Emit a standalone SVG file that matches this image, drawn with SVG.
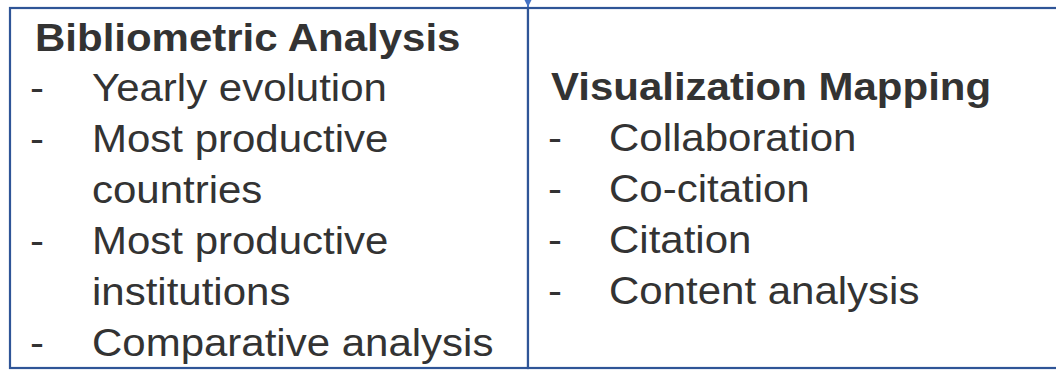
<svg xmlns="http://www.w3.org/2000/svg" width="1056" height="370" viewBox="0 0 1056 370">
<style>
.box{fill:#ffffff;stroke:#2F5597;stroke-width:2.2}
.h{font-family:"Liberation Sans",Arial,sans-serif;font-weight:bold;font-size:42px;fill:#333333}
.t{font-family:"Liberation Sans",Arial,sans-serif;font-size:42px;fill:#333333}
.conn{stroke:#4472C4;stroke-width:2;fill:none}
</style>
<defs>
<marker id="arr" viewBox="0 0 10 10" refX="10" refY="5" markerWidth="8" markerHeight="9" orient="auto" markerUnits="userSpaceOnUse">
<path d="M0,0 L10,5 L0,10 Z" fill="#4472C4"/>
</marker>
</defs>
<g id="node-bibliometric">
<rect class="box" x="10" y="8" width="518" height="360"/>
<g transform="scale(1,0.92)">
<text class="h" x="35" y="55">Bibliometric Analysis</text>
<text class="t" x="30" y="109.8">-</text><text class="t" x="92" y="109.8">Yearly evolution</text>
<text class="t" x="30" y="165.2">-</text><text class="t" x="92" y="165.2">Most productive</text>
<text class="t" x="92" y="220.7">countries</text>
<text class="t" x="30" y="276">-</text><text class="t" x="92" y="276">Most productive</text>
<text class="t" x="92" y="331.5">institutions</text>
<text class="t" x="30" y="387">-</text><text class="t" x="92" y="387">Comparative analysis</text>
</g>
</g>
<g id="node-visualization">
<rect class="box" x="528" y="8" width="540" height="360"/>
<g transform="scale(1,0.92)">
<text class="h" x="551" y="109">Visualization Mapping</text>
<text class="t" x="548" y="164.3">-</text><text class="t" x="609" y="164.3">Collaboration</text>
<text class="t" x="548" y="219.6">-</text><text class="t" x="609" y="219.6">Co-citation</text>
<text class="t" x="548" y="275">-</text><text class="t" x="609" y="275">Citation</text>
<text class="t" x="548" y="330.4">-</text><text class="t" x="609" y="330.4">Content analysis</text>
</g>
</g>
<g id="connectors">
<line class="conn" x1="528" y1="-10" x2="528" y2="7" marker-end="url(#arr)"/>
</g>
</svg>
